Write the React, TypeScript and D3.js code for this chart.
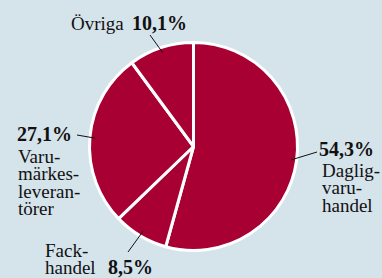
import React, { useEffect, useRef } from "react";
import * as d3 from "d3";

// share of sales, clockwise from 12 o'clock
const categories = ["Dagligvaruhandel", "Fackhandel", "Varumärkesleverantörer", "Övriga"];
const values = [54.3, 8.5, 27.1, 10.1];
const valueLabels = ["54,3%", "8,5%", "27,1%", "10,1%"];
const nameLines = [
  ["Daglig-", "varu-", "handel"],
  ["Fack-", "handel"],
  ["Varu-", "märkes-", "leveran-", "törer"],
  ["Övriga"],
];

const W = 382;
const H = 278;
const BG = "#d5e3eb";
const RED = "#a80032";
const FONT = "'Liberation Serif', 'Times New Roman', serif";

const App = () => {
  const svgRef = useRef<SVGSVGElement>(null);

  useEffect(() => {
    const svg = d3.select(svgRef.current);
    svg.selectAll("*").remove();

    const cx = 193.5;
    const cy = 146.5;
    const radius = 104;

    svg.append("rect").attr("width", W).attr("height", H).attr("fill", BG);

    const pie = d3.pie<number>().sort(null).value((d) => d);
    const arcs = pie(values);
    const arc = d3.arc<d3.PieArcDatum<number>>().innerRadius(0).outerRadius(radius);
    const inner = d3.arc<d3.PieArcDatum<number>>().innerRadius(radius * 0.95).outerRadius(radius * 0.95);

    const g = svg.append("g").attr("transform", `translate(${cx},${cy})`);

    g.selectAll("path")
      .data(arcs)
      .join("path")
      .attr("d", arc)
      .attr("fill", RED)
      .attr("stroke", "#fff")
      .attr("stroke-width", 3)
      .attr("stroke-linejoin", "round");

    // label layout: leader end (page coords) and text placement
    const layout = [
      { end: [317, 152], pct: [319, 156], anchor: "start", names: [322, 177], nameAnchor: "start" },
      { end: [128, 252], pct: [108, 274], anchor: "start", names: [45, 257], nameAnchor: "start" },
      { end: [77, 135], pct: [17, 141], anchor: "start", names: [18, 163], nameAnchor: "start" },
      { end: [150, 35], pct: [132, 30], anchor: "start", names: [71, 30], nameAnchor: "start" },
    ];

    arcs.forEach((a, i) => {
      const [ix, iy] = inner.centroid(a);
      const L = layout[i];
      svg.append("line")
        .attr("x1", cx + ix)
        .attr("y1", cy + iy)
        .attr("x2", L.end[0])
        .attr("y2", L.end[1])
        .attr("stroke", "#111")
        .attr("stroke-width", 1);

      svg.append("text")
        .attr("x", L.pct[0])
        .attr("y", L.pct[1])
        .attr("text-anchor", L.anchor)
        .style("font-family", FONT)
        .style("font-weight", "bold")
        .style("font-size", "20px")
        .style("fill", "#111")
        .text(valueLabels[i]);

      const t = svg.append("text")
        .attr("x", L.names[0])
        .attr("y", L.names[1])
        .attr("text-anchor", L.nameAnchor)
        .style("font-family", FONT)
        .style("font-size", "19px")
        .style("fill", "#111");
      nameLines[i].forEach((line, j) => {
        t.append("tspan")
          .attr("x", L.names[0])
          .attr("dy", j === 0 ? 0 : 17.3)
          .text(line);
      });
    });
  }, []);

  return (
    <svg
      ref={svgRef}
      width={W}
      height={H}
      style={{ position: "absolute", left: 0, top: 0, display: "block" }}
      aria-label={categories.join(", ")}
    ></svg>
  );
};

export default App;
